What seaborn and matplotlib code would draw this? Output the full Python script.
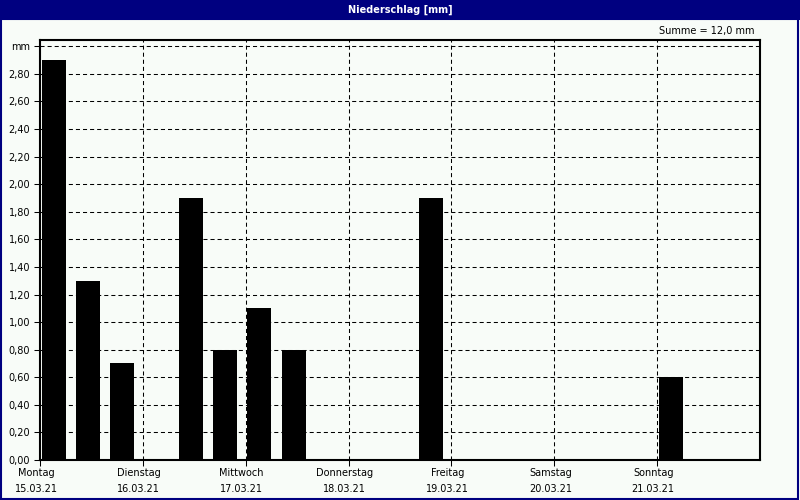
import matplotlib
matplotlib.use("Agg")
import matplotlib.pyplot as plt
import matplotlib.transforms as mtransforms
import seaborn as sns
import pandas as pd
import numpy as np
from matplotlib.patches import Rectangle

# ---- data ----
days = ["Montag", "Dienstag", "Mittwoch", "Donnerstag", "Freitag", "Samstag", "Sonntag"]
dates = ["15.03.21", "16.03.21", "17.03.21", "18.03.21", "19.03.21", "20.03.21", "21.03.21"]
# three 8-hour slots per day
precip = [2.90, 1.30, 0.70,
          0.00, 1.90, 0.80,
          1.10, 0.80, 0.00,
          0.00, 0.00, 1.90,
          0.00, 0.00, 0.00,
          0.00, 0.00, 0.00,
          0.60, 0.00, 0.00]
ytick_vals = [0.0, 0.2, 0.4, 0.6, 0.8, 1.0, 1.2, 1.4, 1.6, 1.8, 2.0, 2.2, 2.4, 2.6, 2.8]
title = "Niederschlag [mm]"
total_label = "Summe = 12,0 mm"

slots_per_day = 3
df = pd.DataFrame({"slot": list(range(len(precip))), "mm": precip})

sns.set_theme(style="white")
plt.rcParams["font.family"] = ["DejaVu Sans"]

bg = "#f8fcf8"
navy = "#000080"
fig = plt.figure(figsize=(8, 5), dpi=100, facecolor=bg)
ax = fig.add_axes([0.05, 0.08, 0.90, 0.84])
ax.set_facecolor(bg)

sns.barplot(data=df, x="slot", y="mm", color="#000000", width=0.7,
            saturation=1, ax=ax, errorbar=None, zorder=3)
# bars sit slightly left within their slot in the reference
for p in ax.patches:
    p.set_edgecolor("none")
    p.set_x(p.get_x() - 0.1)

n = len(precip)
ax.set_xlim(-0.5, n - 0.5)
ax.set_ylim(0, 3.046)

dash = (0, (3.9, 2.9))
# horizontal grid
for v in ytick_vals[1:] + [3.0]:
    ax.axhline(v, color="black", lw=0.75, ls=dash, zorder=1)
# vertical grid at day boundaries
bounds = [-0.5 + slots_per_day * i for i in range(len(days))]
for b in bounds[1:]:
    ax.axvline(b, color="black", lw=0.75, ls=dash, zorder=1)

ax.set_yticks(ytick_vals + [3.0])
ax.set_yticklabels([f"{v:.2f}".replace(".", ",") for v in ytick_vals] + ["mm"])
ax.set_xticks(bounds)
ax.set_xticklabels([f"{d}\n{dt}" for d, dt in zip(days, dates)], linespacing=1.75)
ax.tick_params(axis="both", which="both", direction="out", labelsize=7,
               colors="black", length=4, width=0.75, pad=3, left=True, bottom=True)
ax.tick_params(axis="x", pad=2)
shift = mtransforms.ScaledTranslation(-4 / 100, 0, fig.dpi_scale_trans)
for lbl in ax.get_xticklabels():
    lbl.set_transform(lbl.get_transform() + shift)
ax.set_xlabel("")
ax.set_ylabel("")
for s in ax.spines.values():
    s.set_visible(True)
    s.set_color("black")
    s.set_linewidth(1.5)
    s.set_zorder(5)

# title bar
fig.patches.append(Rectangle((0, 0.96), 1, 0.04, transform=fig.transFigure,
                             facecolor=navy, edgecolor="none", zorder=0))
fig.text(0.5, 0.98, title, ha="center", va="center", color="white",
         fontsize=7, fontweight="bold")
fig.text(0.943, 0.938, total_label, ha="right", va="center", color="black", fontsize=7)
# outer border
fig.patches.append(Rectangle((0.001, 0.002), 0.997, 0.96, transform=fig.transFigure,
                             facecolor="none", edgecolor=navy, lw=1.5, zorder=10))

fig.savefig("out.png", dpi=100, facecolor=bg)
